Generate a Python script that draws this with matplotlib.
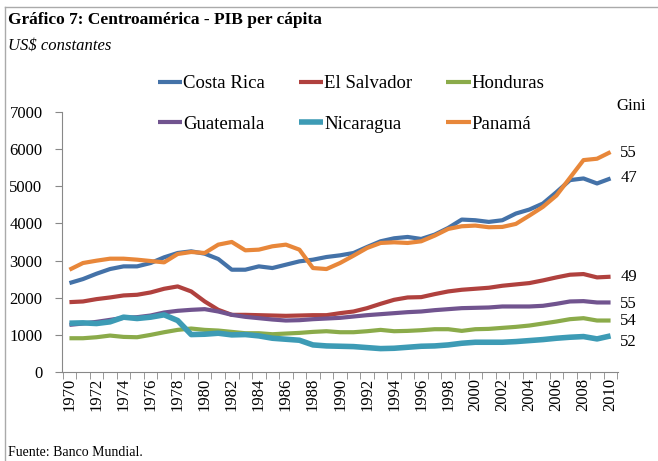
import numpy as np
from matplotlib import pyplot as plt
from matplotlib.lines import Line2D

plt.rc('font', family='Liberation Serif')

years = list(range(1970, 2011))

costa_rica = [2394, 2502, 2646, 2772, 2844, 2844, 2934, 3087, 3204, 3249,
              3186, 3042, 2754, 2754, 2844, 2799, 2889, 2979, 3024, 3096,
              3141, 3204, 3366, 3519, 3600, 3636, 3582, 3699, 3879, 4104,
              4086, 4041, 4086, 4266, 4374, 4536, 4842, 5166, 5211, 5076,
              5211]
el_salvador = [1881, 1899, 1962, 2007, 2061, 2079, 2142, 2241, 2304, 2169,
               1899, 1674, 1539, 1539, 1530, 1521, 1512, 1521, 1530, 1530,
               1584, 1629, 1719, 1836, 1944, 2007, 2016, 2097, 2169, 2214,
               2241, 2268, 2322, 2358, 2394, 2466, 2547, 2619, 2637, 2547,
               2565]
honduras = [909, 909, 936, 981, 945, 936, 999, 1071, 1134, 1170,
            1134, 1116, 1080, 1044, 1044, 1017, 1035, 1053, 1080, 1098,
            1071, 1071, 1098, 1134, 1098, 1107, 1125, 1152, 1152, 1107,
            1152, 1161, 1188, 1215, 1251, 1305, 1359, 1422, 1449, 1386,
            1386]
guatemala = [1269, 1305, 1350, 1404, 1458, 1476, 1521, 1602, 1647, 1674,
             1692, 1629, 1539, 1485, 1449, 1413, 1386, 1395, 1422, 1440,
             1458, 1494, 1530, 1557, 1584, 1611, 1629, 1665, 1692, 1719,
             1728, 1737, 1764, 1764, 1764, 1782, 1836, 1899, 1908, 1872,
             1872]
nicaragua = [1314, 1323, 1305, 1350, 1476, 1440, 1476, 1539, 1386, 1008,
             1017, 1044, 999, 1008, 972, 909, 882, 855, 729, 702,
             693, 684, 657, 630, 639, 666, 693, 702, 729, 774,
             801, 801, 801, 819, 846, 873, 909, 936, 954, 891,
             972]
panama = [2754, 2934, 2997, 3051, 3051, 3024, 2988, 2952, 3177, 3231,
          3204, 3429, 3501, 3276, 3294, 3384, 3429, 3294, 2799, 2772,
          2934, 3132, 3339, 3474, 3492, 3474, 3519, 3672, 3852, 3924,
          3942, 3897, 3906, 3987, 4212, 4446, 4752, 5229, 5705, 5742,
          5922]

names = ['Costa Rica', 'El Salvador', 'Honduras', 'Guatemala', 'Nicaragua', 'Panamá']
series = [costa_rica, el_salvador, honduras, guatemala, nicaragua, panama]
colors = ['#4472a8', '#b0413e', '#8bab4a', '#71548f', '#3d9bb5', '#e8873a']
widths = [3, 3, 3, 3, 4, 3]

gini = ['55', '47', '49', '55', '54', '52']
gini_y = [5886, 5211, 2565, 1836, 1377, 810]

fig = plt.figure(figsize=(6.58, 4.61), dpi=100)
ax = fig.add_axes([62 / 658, 89 / 461, 556 / 658, 260 / 461])

x = np.arange(len(years))
lines = []
for vals, c, lw in zip(series, colors, widths):
    l, = ax.plot(x, vals, color=c, lw=lw, solid_capstyle='butt', solid_joinstyle='round')
    lines.append(l)

ax.set_xlim(-0.55, len(years) - 0.45)
ax.set_ylim(0, 7000)
ax.set_yticks(range(0, 7001, 1000))
ax.set_xticks(x[::2])
ax.set_xticklabels([str(y) for y in years[::2]], rotation=90, fontsize=12)
ax.set_xticks(np.arange(-0.5, len(years), 1), minor=True)
ax.tick_params(axis='x', which='major', length=0, pad=4)
ax.tick_params(axis='x', which='minor', length=5, color='#888888', direction='out')
ax.tick_params(axis='y', length=5, color='#888888', labelsize=12, pad=9)
for s in ['top', 'right']:
    ax.spines[s].set_visible(False)
for s in ['left', 'bottom']:
    ax.spines[s].set_color('#888888')

for g, gy in zip(gini, gini_y):
    ax.text(1.004, gy, g, transform=ax.get_yaxis_transform(), fontsize=12, va='center')
ax.text(0.997, 1.023, 'Gini', transform=ax.transAxes, fontsize=12, va='center')

# legend filled column-wise: 3 columns, 2 rows
order = [0, 3, 1, 4, 2, 5]
fig.legend([lines[i] for i in order], [names[i] for i in order], loc='upper left',
           bbox_to_anchor=(158 / 658, 1 - 75 / 461), ncol=3, frameon=False, fontsize=13.5,
           handlelength=1.3, handletextpad=0.05, columnspacing=1.8, labelspacing=1.25,
           borderpad=0, borderaxespad=0)

fig.text(8 / 658, 1 - 20 / 461, 'Gráfico 7: Centroamérica - PIB per cápita', fontsize=12.5,
         fontweight='bold', va='center')
fig.text(8 / 658, 1 - 46 / 461, 'US$ constantes', fontsize=12, style='italic', va='center')
fig.text(8 / 658, 1 - 452 / 461, 'Fuente: Banco Mundial.', fontsize=10, va='center')

fig.add_artist(Line2D([5 / 658, 1], [1 - 7 / 461] * 2, color='#aaaaaa', lw=1, transform=fig.transFigure))
fig.add_artist(Line2D([5 / 658] * 2, [0, 1 - 7 / 461], color='#aaaaaa', lw=1, transform=fig.transFigure))

plt.savefig('out.png', dpi=100)
